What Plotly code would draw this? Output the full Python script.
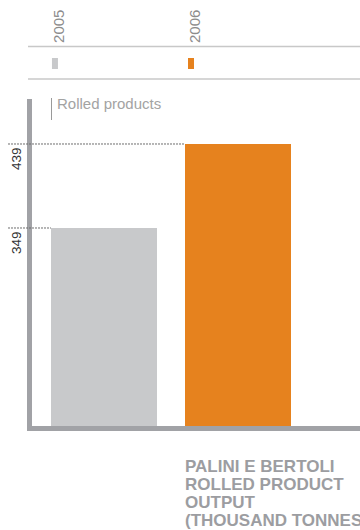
import plotly.graph_objects as go

# ---- data ----
years = ["2005", "2006"]
output = [349, 439]
bar_colors = ["#c8c9cb", "#e6821e"]
series_label = "Rolled products"
title_lines = ["PALINI E BERTOLI", "ROLLED PRODUCT", "OUTPUT", "(THOUSAND TONNES)"]

# ---- layout geometry ----
W, H = 360, 530
L, R, T, B = 32, 0, 99, 104
PW = W - L - R
PH = H - T - B
x_range = [-0.537, 1.9104]
y_range = [136.86, 487.2]
bar_w = 0.791
FONT = "Liberation Sans, Arial, sans-serif"


def px_x(px):
    return (px - L) / PW


def px_y(py):
    return (H - B - py) / PH


def cat_left_px(i):
    return L + (i - bar_w / 2 - x_range[0]) / (x_range[1] - x_range[0]) * PW


fig = go.Figure()
fig.add_trace(go.Bar(
    x=years, y=output, width=bar_w,
    marker=dict(color=bar_colors, line=dict(width=0)),
    hoverinfo="x+y", showlegend=False,
))

shapes = []
annotations = []

# header rules
for py in (46.5, 79):
    shapes.append(dict(type="line", xref="paper", yref="paper",
                       x0=px_x(28), x1=px_x(360), y0=px_y(py), y1=px_y(py),
                       line=dict(color="#c8c8c8", width=1.5)))

# legend: swatches + rotated year labels
for i, (yr, col) in enumerate(zip(years, bar_colors)):
    lx = cat_left_px(i) + 1 + 2 * i
    shapes.append(dict(type="rect", xref="paper", yref="paper",
                       x0=px_x(lx), x1=px_x(lx + 6), y0=px_y(69), y1=px_y(58),
                       fillcolor=col, line=dict(width=0)))
    annotations.append(dict(text=yr, xref="paper", yref="paper",
                            x=px_x(lx - 4), y=px_y(45), xanchor="left", yanchor="bottom",
                            textangle=-90, showarrow=False,
                            font=dict(family=FONT, size=15, color="#8c8c8c")))

# dotted value guides + rotated value labels
for i, v in enumerate(output):
    shapes.append(dict(type="line", xref="paper", yref="y",
                       x0=px_x(8), x1=px_x(cat_left_px(i)), y0=v, y1=v,
                       line=dict(color="#6e6e6e", width=1, dash="2px,1px")))
    annotations.append(dict(text=str(v), xref="paper", yref="y",
                            x=px_x(16.5), y=v, xanchor="center", yanchor="top",
                            yshift=-1, textangle=-90, showarrow=False,
                            font=dict(family=FONT, size=13.5, color="#333333")))

# series label
shapes.append(dict(type="line", xref="paper", yref="paper",
                   x0=px_x(51.5), x1=px_x(51.5), y0=px_y(98), y1=px_y(120),
                   line=dict(color="#9a9a9a", width=1)))
annotations.append(dict(text=series_label, xref="paper", yref="paper",
                        x=px_x(55), y=px_y(93), xanchor="left", yanchor="top",
                        showarrow=False,
                        font=dict(family=FONT, size=15, color="#a3a3a3")))

# title block
for k, line in enumerate(title_lines):
    annotations.append(dict(text="<b>" + line + "</b>", xref="paper", yref="paper",
                            x=px_x(cat_left_px(1) - 2), y=px_y(454.5 + 18.3 * k),
                            xanchor="left", yanchor="top", showarrow=False,
                            font=dict(family=FONT, size=17, color="#9c9da1")))

fig.update_layout(
    width=W, height=H,
    margin=dict(l=L, r=R, t=T, b=B, pad=0),
    paper_bgcolor="white", plot_bgcolor="white",
    bargap=0,
    xaxis=dict(type="category", range=x_range, showline=True, linecolor="#a1a2a6",
               linewidth=5, showticklabels=False, showgrid=False, zeroline=False,
               ticks="", fixedrange=True),
    yaxis=dict(range=y_range, showline=True, linecolor="#a1a2a6", linewidth=5,
               showticklabels=False, showgrid=False, zeroline=False, ticks="",
               fixedrange=True),
    shapes=shapes,
    annotations=annotations,
    showlegend=False,
)

fig.write_html("out.html", config={"displayModeBar": False})
